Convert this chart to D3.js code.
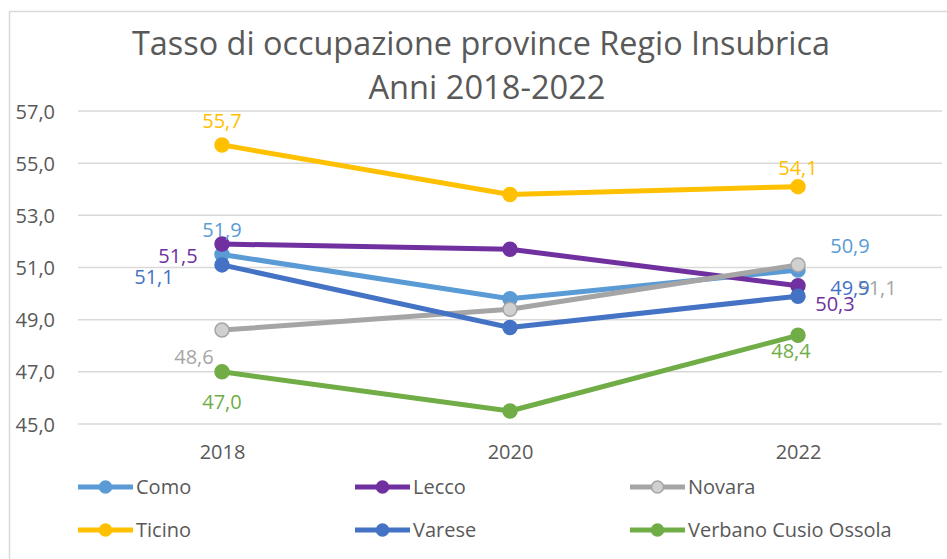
<!DOCTYPE html>
<html>
<head>
<meta charset="utf-8">
<script src="https://cdn.jsdelivr.net/npm/d3@7/dist/d3.min.js"></script>
<style>
  html, body { margin: 0; padding: 0; background: #ffffff; }
  svg { display: block; }
  text { font-family: "Open Sans", "Noto Sans", sans-serif; }
</style>
</head>
<body>
<svg id="chart" width="947" height="559"></svg>
<script>
// ---- data ----
const titleLines = ["Tasso di occupazione province Regio Insubrica", "Anni 2018-2022"];
const years = ["2018", "2020", "2022"];
const yTicks = [45, 47, 49, 51, 53, 55, 57];
const seriesNames = ["Como", "Lecco", "Novara", "Ticino", "Varese", "Verbano Cusio Ossola"];
const como    = [51.5, 49.8, 50.9];
const lecco   = [51.9, 51.7, 50.3];
const novara  = [48.6, 49.4, 51.1];
const ticino  = [55.7, 53.8, 54.1];
const varese  = [51.1, 48.7, 49.9];
const verbano = [47.0, 45.5, 48.4];
// data label texts as shown (null = no label)
const comoLabels    = ["51,9", null, "50,9"];
const leccoLabels   = ["51,5", null, "50,3"];
const novaraLabels  = ["48,6", null, "51,1"];
const ticinoLabels  = ["55,7", null, "54,1"];
const vareseLabels  = ["51,1", null, "49,9"];
const verbanoLabels = ["47,0", null, "48,4"];

// ---- styles ----
const colors = ["#5B9BD5", "#7030A0", "#A5A5A5", "#FFC000", "#4472C4", "#70AD47"];
const markerFill = ["#5B9BD5", "#7030A0", "#D0D0D0", "#FFC000", "#4472C4", "#70AD47"];
// label offsets relative to point (dx, dy) for [2018, 2020, 2022]
const labelOffsets = [
  [[0, -24], null, [52, -24]],
  [[-44, 12], null, [37, 18]],
  [[-28, 27], null, [79, 23]],
  [[0, -24], null, [0, -19]],
  [[-68, 12], null, [52, -8]],
  [[0, 30], null, [-7, 16]]
];

const valuesAll = [como, lecco, novara, ticino, varese, verbano];
const labelsAll = [comoLabels, leccoLabels, novaraLabels, ticinoLabels, vareseLabels, verbanoLabels];
const series = seriesNames.map((n, i) => ({
  name: n, values: valuesAll[i], labels: labelsAll[i], color: colors[i], fill: markerFill[i], offs: labelOffsets[i]
}));

const svg = d3.select("#chart");
const textGray = "#595959";

// border
svg.append("rect").attr("x", 9.5).attr("y", 11.5).attr("width", 960).attr("height", 600)
  .attr("fill", "none").attr("stroke", "#D9D9D9").attr("stroke-width", 1.5);

// title
svg.append("text").attr("x", 481).attr("y", 55).attr("text-anchor", "middle")
  .attr("font-size", 32).attr("fill", textGray)
  .attr("textLength", 698).attr("lengthAdjust", "spacingAndGlyphs")
  .text(titleLines[0]);
svg.append("text").attr("x", 487).attr("y", 99).attr("text-anchor", "middle")
  .attr("font-size", 32).attr("fill", textGray)
  .attr("textLength", 237).attr("lengthAdjust", "spacingAndGlyphs")
  .text(titleLines[1]);

// scales
const x = d3.scalePoint().domain(years).range([222, 798]);
const y = d3.scaleLinear().domain([45, 57]).range([424, 111]);
const plotLeft = 78, plotRight = 942;

// gridlines
svg.append("g").selectAll("line").data(yTicks).join("line")
  .attr("x1", plotLeft).attr("x2", plotRight)
  .attr("y1", d => y(d)).attr("y2", d => y(d))
  .attr("stroke", "#D9D9D9").attr("stroke-width", 1.5);

// y axis labels
const yAxis = d3.axisLeft(y).tickValues(yTicks).tickSize(0).tickPadding(0)
  .tickFormat(d => d3.format(".1f")(d).replace(".", ","));
const gy = svg.append("g").attr("transform", "translate(55,0)").call(yAxis);
gy.select(".domain").remove();
gy.selectAll("text").attr("font-size", 20).attr("fill", textGray)
  .attr("font-family", "'Open Sans', sans-serif").attr("dy", "0.35em");

// x axis labels
const xAxis = d3.axisBottom(x).tickSize(0).tickPadding(0);
const gx = svg.append("g").attr("transform", "translate(0,445)").call(xAxis);
gx.select(".domain").remove();
gx.selectAll("text").attr("font-size", 20).attr("fill", textGray)
  .attr("font-family", "'Open Sans', sans-serif");

// lines
const line = d3.line().x((d, i) => x(years[i])).y(d => y(d));
const gs = svg.append("g").selectAll("g").data(series).join("g");
gs.append("path").attr("d", d => line(d.values)).attr("fill", "none")
  .attr("stroke", d => d.color).attr("stroke-width", 5).attr("stroke-linejoin", "round");
gs.each(function(s) {
  d3.select(this).selectAll("circle").data(s.values).join("circle")
    .attr("cx", (d, i) => x(years[i])).attr("cy", d => y(d)).attr("r", 7)
    .attr("fill", s.fill).attr("stroke", s.color).attr("stroke-width", 1.5);
});

// data labels
const gl = svg.append("g");
series.forEach(s => {
  s.values.forEach((v, i) => {
    if (!s.labels[i]) return;
    const o = s.offs[i];
    gl.append("text").attr("x", x(years[i]) + o[0]).attr("y", y(v) + o[1])
      .attr("text-anchor", "middle").attr("dy", "0.35em")
      .attr("font-size", 20).attr("fill", s.color).text(s.labels[i]);
  });
});

// legend
const legX = [78, 355, 630], legY = [487, 530];
const lg = svg.append("g").selectAll("g").data(series).join("g")
  .attr("transform", (d, i) => `translate(${legX[i % 3]},${legY[Math.floor(i / 3)]})`);
lg.append("line").attr("x1", 0).attr("x2", 55).attr("y1", 0).attr("y2", 0)
  .attr("stroke", d => d.color).attr("stroke-width", 5);
lg.append("circle").attr("cx", 27.5).attr("cy", 0).attr("r", 6)
  .attr("fill", d => d.fill).attr("stroke", d => d.color).attr("stroke-width", 1.5);
lg.append("text").attr("x", 58).attr("y", 0).attr("dy", "0.35em")
  .attr("font-size", 20).attr("fill", textGray).text(d => d.name);
</script>
</body>
</html>
